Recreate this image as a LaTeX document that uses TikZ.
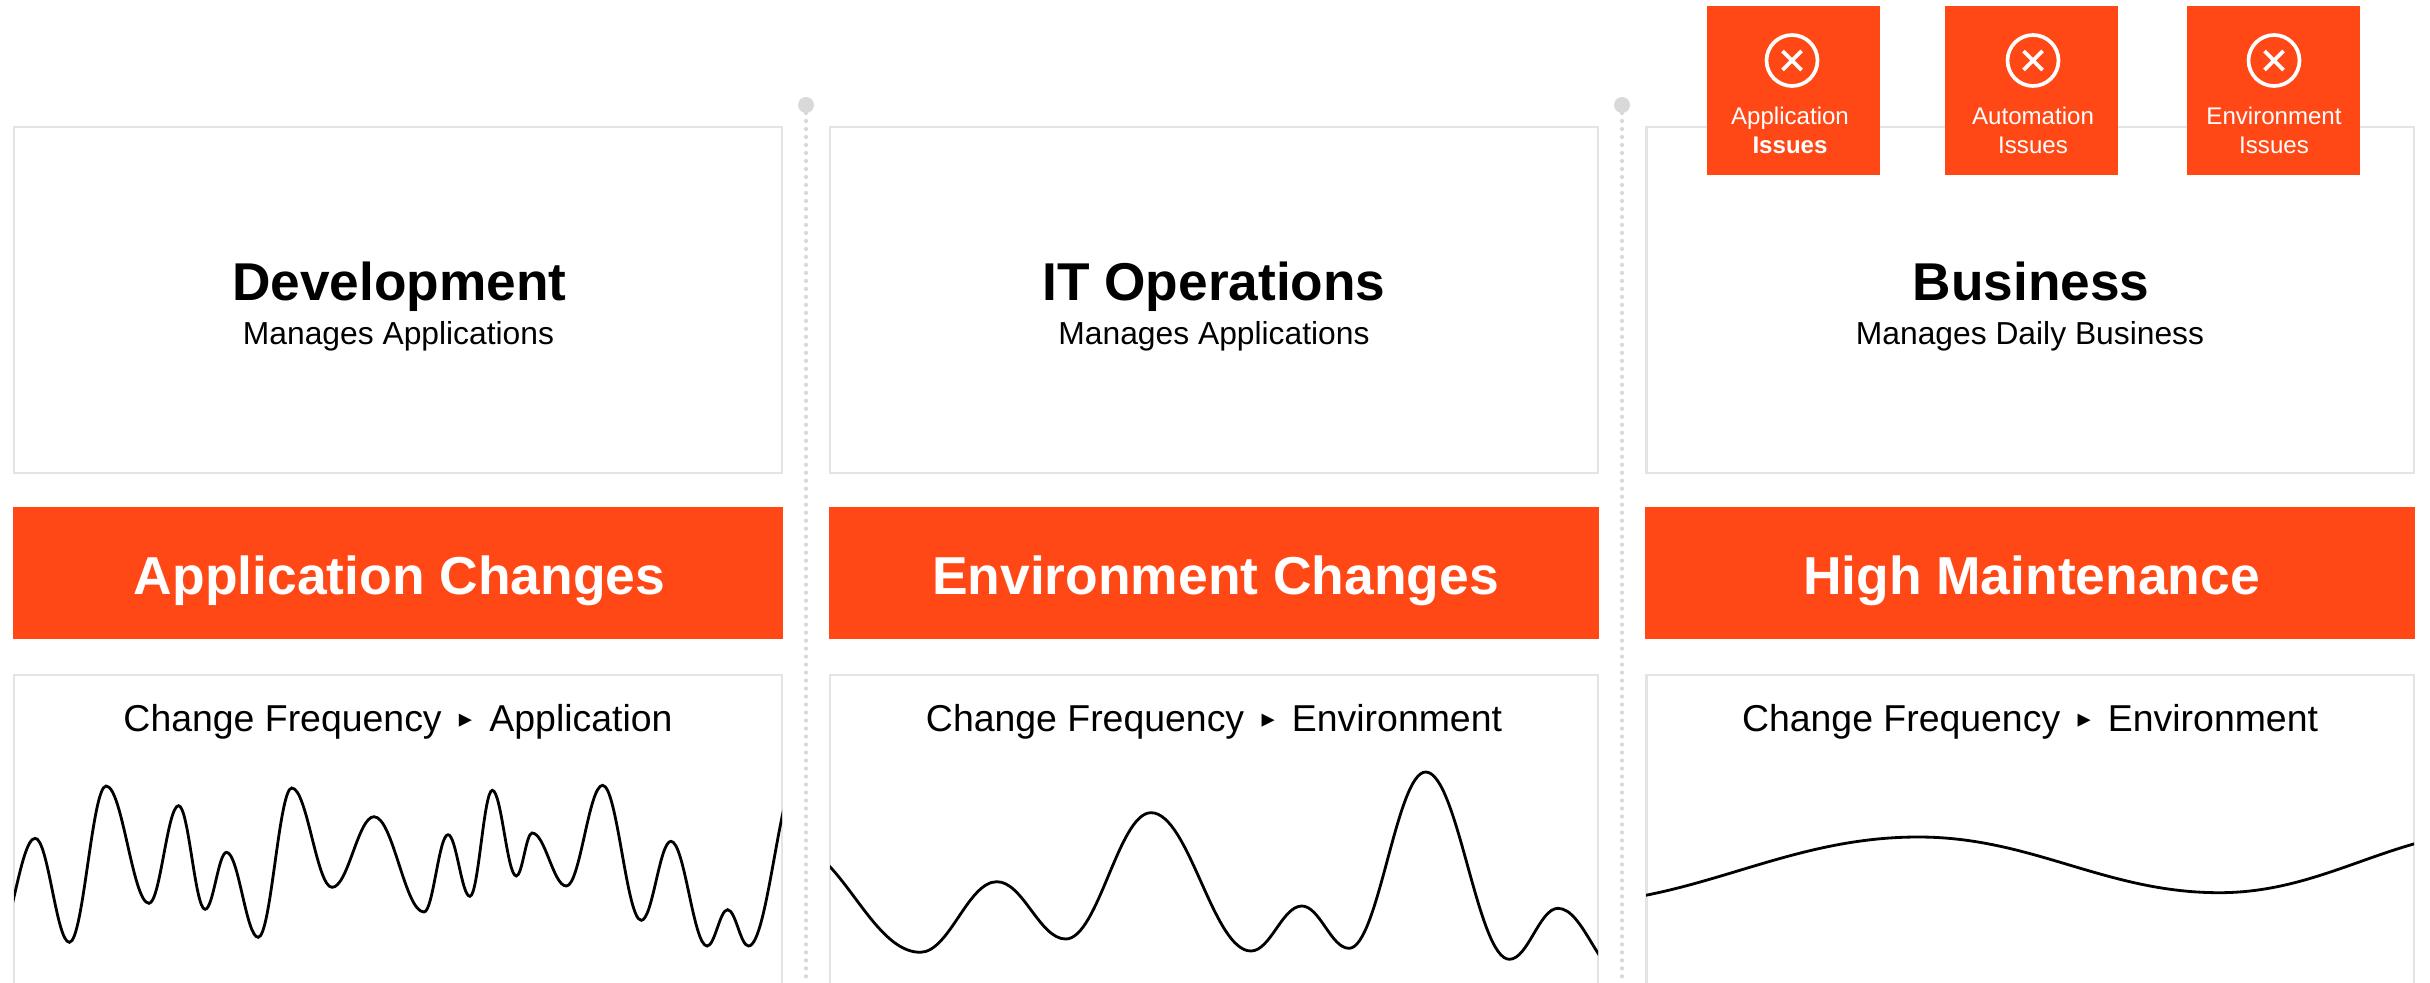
\documentclass[tikz,border=0pt]{standalone}
\usepackage{fontspec}
\setmainfont{Liberation Sans}
\newfontfamily\symbolfont{DejaVu Sans}
\usetikzlibrary{shapes.misc}

\definecolor{bannerred}{HTML}{FF4816}
\definecolor{boxgray}{HTML}{E1E5E5}
\definecolor{divgray}{HTML}{D9D9D9}

\tikzset{
  sectionbox/.style={shape=rectangle,draw=boxgray,line width=1.6pt,minimum width=15.36cm,inner sep=0pt},
  infobox/.style={sectionbox,minimum height=6.92cm},
  freqbox/.style={sectionbox,minimum height=6.4cm},
  bannerbox/.style={shape=rectangle,fill=bannerred,minimum width=15.4cm,minimum height=2.64cm,inner sep=0pt},
  bannertext/.style={anchor=base,text=white,font=\bfseries\fontsize{30.4}{36}\selectfont},
  maintitle/.style={anchor=base,font=\bfseries\fontsize{30.3}{36}\selectfont},
  subtitle/.style={anchor=base,font=\fontsize{18.1}{22}\selectfont},
  freqtitle/.style={anchor=base,font=\fontsize{21.3}{26}\selectfont},
  issuecard/.style={shape=rectangle,fill=bannerred,minimum width=3.46cm,minimum height=3.38cm,inner sep=0pt},
  issueicon/.style={shape=circle,draw=white,line width=2.1pt,minimum size=1.02cm,inner sep=0pt},
  issuecross/.style={shape=cross out,draw=white,line width=2.1pt,minimum size=0.38cm,inner sep=0pt,outer sep=0pt},
  issuetext/.style={text=white,align=center,font=\fontsize{13.7}{16.5}\selectfont},
  divhead/.style={shape=circle,fill=divgray,minimum size=0.32cm,inner sep=0pt,outer sep=0pt},
  divline/.style={draw=divgray,line width=2.4pt,line cap=round,dash pattern=on 0pt off 4.55pt},
  wave/.style={draw=black,line width=1.6pt}
}
\newcommand{\freqsep}{\hspace{0.46em}\raisebox{0.09em}{\symbolfont\fontsize{15}{15}\selectfont ▸}\hspace{0.46em}}

\begin{document}
\begin{tikzpicture}[x=0.02cm,y=-0.02cm]
\useasboundingbox (0,0) rectangle (2430,983);

\node[divhead] (headA) at (806,105) {};
\node[divhead] (headB) at (1622,105) {};
\coordinate (endA) at (806,983);
\coordinate (endB) at (1622,983);
\draw[divline] (headA) -- (endA);
\draw[divline] (headB) -- (endB);

\node[infobox] (devbox) at (398,300) {};
\node[infobox] (opsbox) at (1214,300) {};
\node[infobox] (busbox) at (2030,300) {};

\node[maintitle] (devtitle) at (399.5,300.5) {Development};
\node[maintitle] (opstitle) at (1214,300.5) {IT Operations};
\node[maintitle] (bustitle) at (2031,300.5) {Business};
\node[subtitle] (devsub) at (398.5,344) {Manages Applications};
\node[subtitle] (opssub) at (1214,344) {Manages Applications};
\node[subtitle] (bussub) at (2030,344) {Manages Daily Business};

\node[bannerbox] (devbanner) at (398,573) {};
\node[bannerbox] (opsbanner) at (1214,573) {};
\node[bannerbox] (busbanner) at (2030,573) {};
\node[bannertext] (devbannertext) at (399.5,594) {Application Changes};
\node[bannertext] (opsbannertext) at (1215.5,594) {Environment Changes};
\node[bannertext] (busbannertext) at (2031.5,594) {High Maintenance};

\node[freqbox] (devfreq) at (398,835) {};
\node[freqbox] (opsfreq) at (1214,835) {};
\node[freqbox] (busfreq) at (2030,835) {};

\node[freqtitle] (devfreqtitle) at (398,731) {Change Frequency\freqsep Application};
\node[freqtitle] (opsfreqtitle) at (1214,731) {Change Frequency\freqsep Environment};
\node[freqtitle] (busfreqtitle) at (2030,731) {Change Frequency\freqsep Environment};

\begin{scope}
\clip (14,675) rectangle (782,983);
\draw[wave] (-5,946) \foreach \x/\y [remember=\x as \lx (initially -5),remember=\y as \ly (initially 946)] in
  {35.2/838.3,69.4/942.3,106.1/786,149/903.3,178.6/805.7,205.1/909.3,226.5/852.3,258.2/937.3,291.8/788,332.1/887.3,
   374/816.7,424/912,448/834.7,469.9/896.3,492.3/790.3,516.3/876,532.1/833,566.3/886,602.6/785.3,641.3/920.3,
   670.9/841.3,707.1/946,727.6/909.7,748.5/946,800/770}
  { .. controls ({\lx+0.38*(\x-\lx)},\ly) and ({\x-0.38*(\x-\lx)},\y) .. (\x,\y) };
\end{scope}

\begin{scope}
\clip (830,675) rectangle (1598,983);
\draw[wave] (790,844) \foreach \x/\y [remember=\x as \lx (initially 790),remember=\y as \ly (initially 844)] in
  {920.2/952.3,996.9/881.7,1065.7/939,1151/812.7,1251/951,1301.8/906,1349/948.3,1425.7/772,1509.4/959.3,1558/908.3,1625/977}
  { .. controls ({\lx+0.38*(\x-\lx)},\ly) and ({\x-0.38*(\x-\lx)},\y) .. (\x,\y) };
\end{scope}

\begin{scope}
\clip (1646,675) rectangle (2414,983);
\draw[wave] (1560,904) \foreach \x/\y [remember=\x as \lx (initially 1560),remember=\y as \ly (initially 904)] in
  {1918.3/837,2219.3/892.7,2500/831}
  { .. controls ({\lx+0.38*(\x-\lx)},\ly) and ({\x-0.38*(\x-\lx)},\y) .. (\x,\y) };
\end{scope}

\node[issuecard] (cardA) at (1793.5,90.5) {};
\node[issuecard] (cardB) at (2031.5,90.5) {};
\node[issuecard] (cardC) at (2273.5,90.5) {};
\node[issueicon] (iconA) at (1792,60.5) {};
\node[issueicon] (iconB) at (2033,60.5) {};
\node[issueicon] (iconC) at (2274,60.5) {};
\node[issuecross] (crossA) at (iconA) {};
\node[issuecross] (crossB) at (iconB) {};
\node[issuecross] (crossC) at (iconC) {};
\node[issuetext] (textA) at (1790,130) {Application\\\textbf{Issues}};
\node[issuetext] (textB) at (2033,130) {Automation\\Issues};
\node[issuetext] (textC) at (2274,130) {Environment\\Issues};
\end{tikzpicture}
\end{document}
